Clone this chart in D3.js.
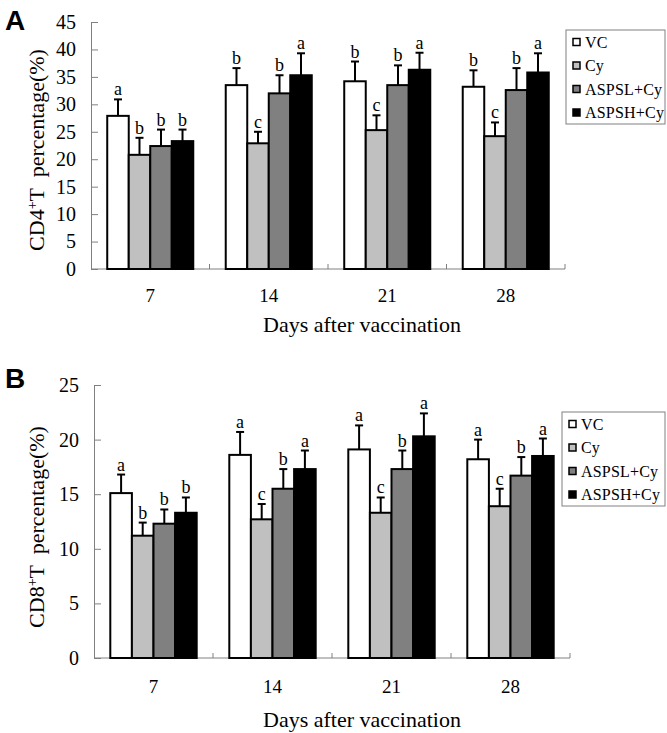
<!DOCTYPE html>
<html>
<head>
<meta charset="utf-8">
<script src="https://cdn.jsdelivr.net/npm/d3@7"></script>
<style>
  body { margin: 0; background: #fff; }
  svg { display: block; font-family: "Liberation Serif", "Times New Roman", serif; }
</style>
</head>
<body>
<svg width="667" height="733"></svg>
<script>
// data
var days = ["7", "14", "21", "28"];
var groups = ["VC", "Cy", "ASPSL+Cy", "ASPSH+Cy"];

// CD4+ T (%) — one row per day, one column per group
var cd4Mean = [
  [27.9, 20.8, 22.4, 23.3],
  [33.5, 22.9, 32.0, 35.3],
  [34.2, 25.3, 33.5, 36.3],
  [33.2, 24.2, 32.6, 35.8]
];
var cd4Err = [
  [3.0, 3.1, 3.0, 2.1],
  [3.1, 2.1, 3.3, 4.0],
  [3.6, 2.7, 3.6, 3.1],
  [3.0, 2.5, 4.0, 3.5]
];
var cd4Sig = [
  ["a", "b", "b", "b"],
  ["b", "c", "b", "a"],
  ["b", "c", "b", "a"],
  ["b", "c", "b", "a"]
];

// CD8+ T (%)
var cd8Mean = [
  [15.1, 11.2, 12.3, 13.3],
  [18.6, 12.7, 15.5, 17.3],
  [19.1, 13.3, 17.3, 20.3],
  [18.2, 13.9, 16.7, 18.5]
];
var cd8Err = [
  [1.7, 1.2, 1.3, 1.4],
  [2.1, 1.4, 1.8, 1.7],
  [2.2, 1.4, 1.7, 2.1],
  [1.8, 1.6, 1.7, 1.6]
];
var cd8Sig = [
  ["a", "b", "b", "b"],
  ["a", "c", "b", "a"],
  ["a", "c", "b", "a"],
  ["a", "c", "b", "a"]
];

var fills = ["#ffffff", "#c0c0c0", "#808080", "#000000"];
var axisGrey = "#808080";

var svg = d3.select("svg");

function drawPanel(p) {
  var g = svg.append("g");

  var y = d3.scaleLinear().domain([0, p.yMax]).range([p.y0, p.y1]);
  var x0 = d3.scaleBand().domain(days).range([p.x0, p.x1])
    .paddingInner(0.274).paddingOuter(0.137);
  var x1 = d3.scaleBand().domain(groups).range([0, x0.bandwidth()]);

  // y axis, ticks pointing inward
  var yAxis = g.append("g")
    .attr("transform", "translate(" + p.x0 + ",0)")
    .call(d3.axisLeft(y).ticks(p.yMax / 5).tickSizeInner(-7).tickSizeOuter(0).tickPadding(15));
  yAxis.select(".domain").attr("stroke", axisGrey);
  yAxis.selectAll(".tick line").attr("stroke", axisGrey);
  yAxis.selectAll("text")
    .attr("font-family", "Liberation Serif")
    .attr("font-size", 20)
    .attr("fill", "#000");

  // x axis line and separators between days
  g.append("line")
    .attr("x1", p.x0).attr("x2", p.x1)
    .attr("y1", p.y0).attr("y2", p.y0)
    .attr("stroke", axisGrey);
  d3.range(1, days.length + 1).forEach(function(k) {
    var xx = p.x0 + k * x0.step();
    g.append("line")
      .attr("x1", xx).attr("x2", xx)
      .attr("y1", p.y0).attr("y2", p.y0 - 5)
      .attr("stroke", axisGrey);
  });

  g.selectAll(".xlab")
    .data(days)
    .enter().append("text")
    .attr("x", function(d) { return x0(d) + x0.bandwidth() / 2; })
    .attr("y", p.y0 + p.tickGap)
    .attr("text-anchor", "middle")
    .attr("font-size", 19)
    .text(function(d) { return d; });

  // bars
  var rows = [];
  days.forEach(function(d, i) {
    groups.forEach(function(s, j) {
      rows.push({ day: d, group: s, j: j, mean: p.mean[i][j], err: p.err[i][j], sig: p.sig[i][j] });
    });
  });

  var bar = g.selectAll(".bar")
    .data(rows)
    .enter().append("g")
    .attr("transform", function(d) { return "translate(" + (x0(d.day) + x1(d.group)) + ",0)"; });

  var bw = x1.bandwidth();

  // error bars first so the bar outline sits on top
  bar.append("line")
    .attr("x1", bw / 2).attr("x2", bw / 2)
    .attr("y1", function(d) { return y(d.mean); })
    .attr("y2", function(d) { return y(d.mean + d.err); })
    .attr("stroke", "#000").attr("stroke-width", 2);
  bar.append("line")
    .attr("x1", bw / 2 - 4).attr("x2", bw / 2 + 4)
    .attr("y1", function(d) { return y(d.mean + d.err); })
    .attr("y2", function(d) { return y(d.mean + d.err); })
    .attr("stroke", "#000").attr("stroke-width", 2);

  bar.append("rect")
    .attr("x", 0)
    .attr("width", bw)
    .attr("y", function(d) { return y(d.mean); })
    .attr("height", function(d) { return p.y0 - y(d.mean); })
    .attr("fill", function(d) { return fills[d.j]; })
    .attr("stroke", "#000")
    .attr("stroke-width", 2);

  bar.append("text")
    .attr("x", bw / 2)
    .attr("y", function(d) { return y(d.mean + d.err) - 4; })
    .attr("text-anchor", "middle")
    .attr("font-size", 18)
    .text(function(d) { return d.sig; });

  // axis titles
  var yt = g.append("text")
    .attr("transform", "translate(" + p.yTitleX + "," + p.yTitleY + ") rotate(-90)")
    .attr("text-anchor", "middle")
    .attr("font-size", 22)
    .style("white-space", "pre");
  yt.append("tspan").text(p.cell);
  yt.append("tspan").attr("baseline-shift", "super").attr("font-size", 14).text("+");
  yt.append("tspan").text("T  percentage(%)");

  g.append("text")
    .attr("x", 362)
    .attr("y", p.y0 + p.titleGap)
    .attr("text-anchor", "middle")
    .attr("font-size", 22)
    .text("Days after vaccination");

  // panel letter
  g.append("text")
    .attr("x", 5)
    .attr("y", p.letterY)
    .attr("font-family", "Liberation Sans, Arial, sans-serif")
    .attr("font-weight", "bold")
    .attr("font-size", 28)
    .text(p.letter);

  // legend
  var lg = g.append("g").attr("transform", "translate(" + p.legX + "," + p.legY + ")");
  lg.append("rect")
    .attr("width", p.legW).attr("height", 94)
    .attr("fill", "#fff").attr("stroke", axisGrey);
  groups.forEach(function(s, j) {
    var cy = 12 + j * 23.5;
    lg.append("rect")
      .attr("x", 7).attr("y", cy - 3.5)
      .attr("width", 7).attr("height", 7)
      .attr("fill", fills[j]).attr("stroke", "#000").attr("stroke-width", 1.5);
    lg.append("text")
      .attr("x", 19).attr("y", cy + 5.5)
      .attr("font-size", 16)
      .attr("letter-spacing", 0.2)
      .text(s);
  });
}

drawPanel({
  letter: "A", letterY: 30, cell: "CD4",
  mean: cd4Mean, err: cd4Err, sig: cd4Sig,
  yMax: 45, x0: 91, x1: 565, y0: 269, y1: 22,
  tickGap: 33, titleGap: 63,
  yTitleX: 44, yTitleY: 150,
  legX: 566, legY: 30, legW: 99
});

drawPanel({
  letter: "B", letterY: 388, cell: "CD8",
  mean: cd8Mean, err: cd8Err, sig: cd8Sig,
  yMax: 25, x0: 94, x1: 570, y0: 658, y1: 385,
  tickGap: 35, titleGap: 69,
  yTitleX: 44, yTitleY: 527,
  legX: 562, legY: 412, legW: 103
});
</script>
</body>
</html>
